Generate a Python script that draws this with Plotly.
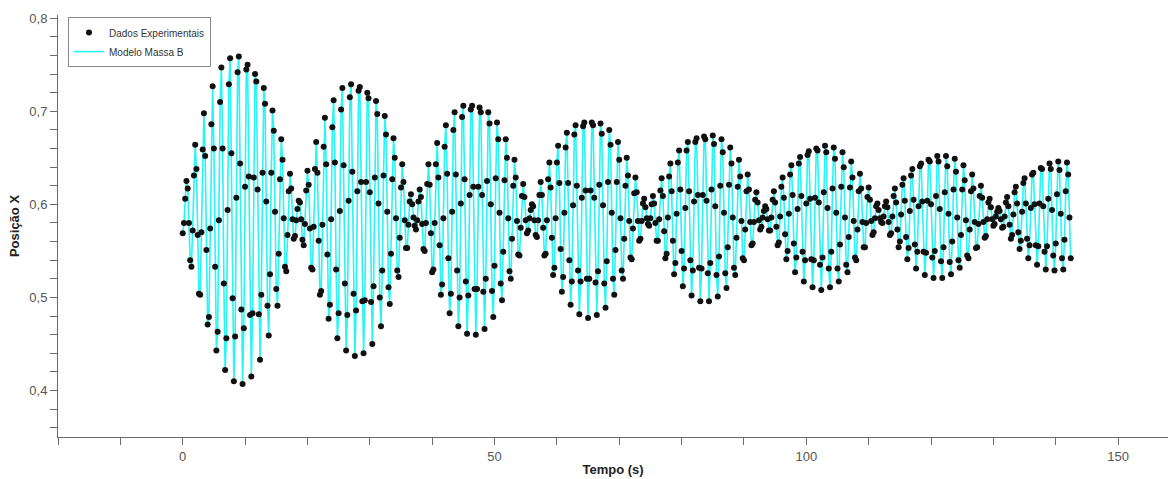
import plotly.graph_objects as go

# Position of mass B, in thousandths, one sample every 0.2 s from t = 0 s
posicao_milesimos = [
    569, 580, 606, 625, 617, 580, 540,
    533, 572, 631, 664, 638, 567, 504,
    503, 570, 659, 698, 652, 551, 471,
    479, 574, 686, 727, 660, 533, 443,
    463, 583, 710, 747, 660, 515, 422,
    456, 594, 729, 757, 655, 499, 410,
    458, 607, 742, 759, 644, 487, 407,
    467, 619, 745, 750, 630, 481, 415,
    483, 629, 740, 732, 616, 482, 433,
    503, 634, 725, 708, 603, 491, 459,
    525, 634, 701, 679, 592, 509, 491,
    547, 627, 670, 648, 585, 533, 528,
    567, 614, 633, 617, 584, 563, 566,
    583, 595, 604, 602, 584, 562, 556,
    579, 615, 636, 621, 574, 532, 530,
    576, 638, 667, 634, 561, 503, 507,
    578, 662, 693, 643, 546, 477, 492,
    584, 683, 712, 645, 530, 456, 483,
    593, 702, 725, 642, 515, 443, 481,
    604, 715, 729, 635, 504, 437, 486,
    614, 722, 726, 624, 496, 440, 497,
    624, 720, 714, 613, 495, 450, 512,
    629, 711, 697, 601, 500, 469, 529,
    631, 695, 675, 592, 511, 493, 547,
    627, 671, 650, 585, 529, 522, 564,
    618, 643, 624, 583, 553, 553, 578,
    603, 611, 600, 586, 577, 573, 583,
    603, 616, 608, 579, 552, 550, 580,
    622, 643, 621, 569, 527, 530, 580,
    643, 666, 629, 556, 503, 514, 585,
    662, 685, 633, 542, 483, 504, 592,
    680, 699, 632, 529, 469, 500, 601,
    694, 706, 627, 517, 461, 502, 610,
    702, 706, 619, 509, 460, 509, 619,
    704, 699, 610, 506, 466, 520, 625,
    699, 687, 600, 507, 479, 534, 628,
    688, 670, 591, 515, 497, 549, 626,
    670, 650, 585, 528, 520, 563, 620,
    648, 629, 582, 546, 545, 575, 609,
    622, 608, 583, 569, 572, 585, 594,
    600, 598, 583, 567, 565, 583, 610,
    624, 610, 575, 545, 547, 583, 627,
    645, 618, 564, 524, 532, 585, 645,
    663, 623, 552, 506, 522, 591, 661,
    677, 623, 540, 492, 517, 599, 675,
    685, 620, 529, 482, 517, 607, 684,
    688, 615, 520, 478, 520, 615, 688,
    685, 607, 516, 481, 528, 621, 687,
    676, 599, 515, 489, 539, 624, 680,
    664, 591, 520, 503, 551, 624, 667,
    648, 585, 529, 520, 563, 620, 650,
    631, 582, 543, 541, 574, 612, 629,
    613, 582, 561, 563, 582, 601, 606,
    597, 585, 579, 577, 585, 600, 609,
    601, 580, 561, 561, 584, 615, 628,
    609, 571, 542, 547, 586, 630, 644,
    614, 561, 525, 537, 590, 645, 658,
    616, 550, 512, 531, 596, 658, 667,
    614, 540, 502, 529, 603, 667, 671,
    610, 532, 496, 531, 610, 673, 670,
    604, 526, 496, 537, 616, 674, 665,
    598, 524, 501, 544, 620, 670, 656,
    591, 526, 510, 554, 621, 661, 644,
    586, 532, 524, 564, 619, 648, 630,
    582, 542, 540, 573, 614, 632, 616,
    581, 556, 558, 581, 605, 613, 602,
    583, 573, 576, 586, 593, 598, 595,
    584, 572, 572, 586, 605, 614, 602,
    576, 556, 559, 587, 619, 629, 607,
    568, 541, 550, 590, 632, 642, 610,
    558, 527, 543, 595, 644, 651, 609,
    549, 517, 540, 601, 653, 657, 606,
    541, 511, 540, 607, 660, 658, 602,
    535, 508, 543, 613, 663, 656, 596,
    531, 511, 549, 617, 661, 649, 591,
    531, 517, 557, 619, 656, 640, 586,
    535, 527, 565, 618, 646, 629, 582,
    543, 540, 573, 614, 633, 617, 581,
    554, 554, 580, 608, 618, 605, 582,
    567, 570, 585, 598, 601, 594, 585,
    581, 580, 587, 598, 603, 597, 581,
    567, 569, 587, 609, 617, 602, 573,
    554, 560, 589, 621, 628, 604, 565,
    541, 553, 593, 631, 638, 605, 557,
    531, 549, 598, 641, 644, 603, 549,
    524, 548, 604, 648, 646, 600, 543,
    521, 550, 609, 652, 646, 595, 539,
    521, 554, 613, 652, 641, 590, 538,
    525, 560, 616, 649, 635, 586, 540,
    532, 567, 616, 642, 626, 583, 545,
    542, 573, 614, 632, 617, 581, 553,
    554, 579, 609, 620, 607, 581, 564,
    566, 584, 602, 606, 597, 584, 577,
    579, 587, 592, 596, 593, 584, 575,
    576, 587, 602, 608, 598, 578, 563,
    567, 589, 613, 619, 601, 570, 552,
    561, 592, 623, 628, 601, 563, 542,
    556, 596, 632, 634, 600, 556, 535,
    555, 601, 639, 638, 598, 549, 530,
    555, 606, 644, 638, 594, 545, 529,
    558, 611, 646, 637, 590, 542, 530,
    562, 614, 645, 632, 586, 542,
]
tempo_inicial = 0.0
passo_tempo = 0.2

x_tick_vals = [0, 50, 100, 150]
y_tick_vals = [0.4, 0.5, 0.6, 0.7, 0.8]

posicao = [v / 1000 for v in posicao_milesimos]

fig = go.Figure()
fig.add_trace(go.Scatter(
    x0=tempo_inicial, dx=passo_tempo, y=posicao,
    mode="lines", name="Modelo Massa B",
    line=dict(color="rgb(40,245,245)", width=1.6),
    legendrank=2,
))
fig.add_trace(go.Scatter(
    x0=tempo_inicial, dx=passo_tempo, y=posicao,
    mode="markers", name="Dados Experimentais",
    marker=dict(color="#111111", size=6),
    legendrank=1,
))

axis_col = "#6a6a6a"
fig.update_layout(
    width=1168, height=479,
    margin=dict(l=58, r=0, t=15, b=42),
    paper_bgcolor="white", plot_bgcolor="white",
    separators=",.",
    font=dict(family="Liberation Sans, Arial, sans-serif", color="#444"),
    showlegend=True,
    legend=dict(
        x=0.009, y=0.995, xanchor="left", yanchor="top",
        bgcolor="white", bordercolor="#8a8a8a", borderwidth=1,
        font=dict(size=10, color="#333"),
        tracegroupgap=0, itemwidth=30,
    ),
)
fig.update_xaxes(
    range=[-20, 158], showline=True, linecolor=axis_col, linewidth=1,
    showgrid=False, zeroline=False,
    tickmode="array", tickvals=x_tick_vals,
    ticks="outside", ticklen=7, tickcolor=axis_col,
    minor=dict(dtick=10, tick0=0, ticks="outside", ticklen=7, tickcolor=axis_col, showgrid=False),
    tickfont=dict(size=13, color="#555"),
    title=dict(text="<b>Tempo (s)</b>", font=dict(size=13, color="#222"), standoff=2),
    automargin=False,
)
fig.update_yaxes(
    range=[0.35, 0.8035], showline=True, linecolor=axis_col, linewidth=1,
    showgrid=False, zeroline=False,
    tickmode="array", tickvals=y_tick_vals, tickformat=".1f",
    ticks="outside", ticklen=7, tickcolor=axis_col,
    minor=dict(dtick=0.02, tick0=0, ticks="outside", ticklen=7, tickcolor=axis_col, showgrid=False),
    tickfont=dict(size=13, color="#555"),
    title=dict(text="<b>Posição X</b>", font=dict(size=13, color="#222"), standoff=6),
    automargin=False,
)

fig.write_html("out.html")
